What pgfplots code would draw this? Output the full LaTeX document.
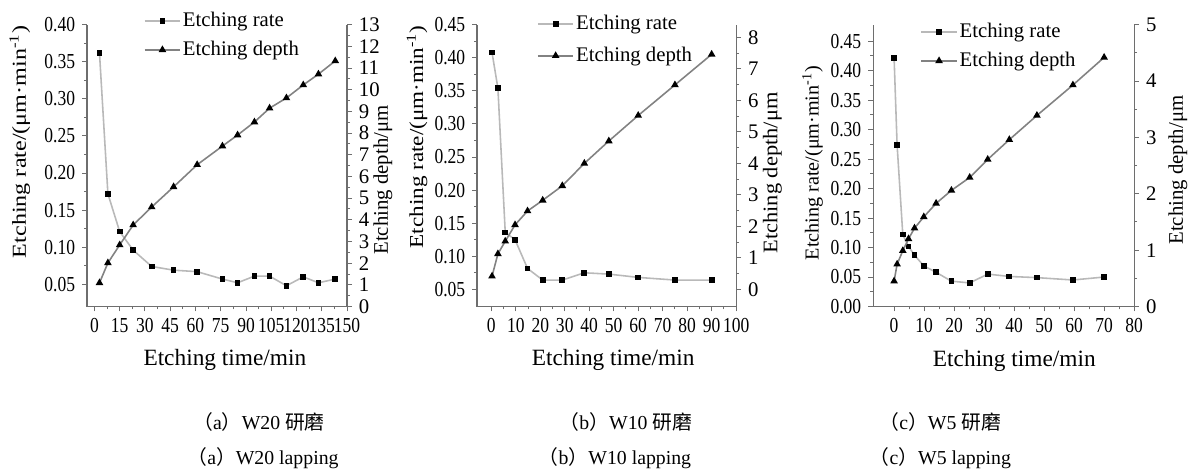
\documentclass[border=0pt]{standalone}
\usepackage{fontspec}
\setmainfont{Liberation Serif}
\newfontfamily\narrowfont{Liberation Serif}[FakeStretch=0.82]
\newfontfamily\lblA{Liberation Serif}[FakeStretch=1.22]
\newfontfamily\lblB{Liberation Serif}[FakeStretch=1.17]
\newfontfamily\lblC{Liberation Serif}[FakeStretch=1.02]
\newfontfamily\lblR{Liberation Serif}[FakeStretch=1.08]
\newfontfamily\cjk{Noto Sans CJK SC}
\usepackage{pgfplots}
\pgfplotsset{compat=1.18}
\definecolor{rategray}{RGB}{185,185,185}
\definecolor{depthgray}{RGB}{130,130,130}
\definecolor{axgray}{RGB}{110,110,110}
\pgfplotsset{
  common/.style={
    scale only axis, anchor=south west, clip=false,
    tick align=outside,
    major tick length=2.5pt, minor tick length=1.5pt,
    every tick/.style={axgray, line width=0.5pt},
    axis line style={axgray, line width=0.6pt},
    /pgf/number format/assume math mode=true,
    minor x tick num=1, minor y tick num=1,
    label style={font=\fontsize{10.5}{12}\selectfont},
    height=142.5pt,
  },
  leftax/.style={common,
    axis x line*=bottom, axis y line*=left,
    scaled y ticks=false,
    yticklabel style={font=\narrowfont\fontsize{10.8}{12}\selectfont, /pgf/number format/fixed, /pgf/number format/fixed zerofill, /pgf/number format/precision=2},
    xticklabel style={font=\narrowfont\fontsize{10.8}{12}\selectfont},
    xlabel style={font=\fontsize{11.8}{13}\selectfont},
  },
  rightax/.style={common,
    axis x line=none, axis y line*=right,
    yticklabel style={font=\fontsize{10.5}{12}\selectfont},
    legend cell align=left,
    legend image code/.code={\draw[mark repeat=2,mark phase=2,##1] plot coordinates {(0pt,0pt) (9pt,0pt) (18pt,0pt)};},
  },
  rate/.style={rategray, line width=0.8pt, mark=square*, mark size=1.05pt, mark options={black, fill=black, solid}},
  depth/.style={depthgray, line width=0.8pt, mark=triangle*, mark size=1.45pt, mark options={black, fill=black, solid}},
}
\pgfplotstableread{
t rate depth
3 0.362 1.09
8 0.172 2.01
15 0.121 2.84
23 0.096 3.76
34 0.074 4.59
47 0.069 5.52
61 0.067 6.54
76 0.057 7.40
85 0.052 7.91
95 0.061 8.51
104 0.061 9.15
114 0.048 9.62
124 0.060 10.22
133 0.052 10.72
143 0.057 11.33
}\dataA
\pgfplotstableread{
t rate depth
0.3 0.408 0.42
2.7 0.354 1.13
5.7 0.136 1.53
9.7 0.125 2.05
14.8 0.0815 2.49
21 0.064 2.83
29 0.064 3.29
38 0.075 4.00
48 0.073 4.71
60 0.068 5.52
75 0.064 6.49
90 0.064 7.46
}\dataB
\pgfplotstableread{
t rate depth
0 0.422 0.45
1 0.274 0.75
2.9 0.122 0.99
4.8 0.102 1.20
6.8 0.087 1.39
9.9 0.069 1.59
14 0.058 1.83
19.1 0.043 2.06
25.2 0.040 2.29
31.2 0.055 2.61
38.4 0.051 2.96
47.6 0.049 3.39
59.6 0.045 3.93
70 0.050 4.42
}\dataC
\begin{document}
\begin{tikzpicture}
\path (0,0) rectangle (597pt,235.5pt);
% ---------- panel (a)
\begin{axis}[leftax, at={(44pt,80.5pt)}, width=131.5pt,
  xmin=-4.4, xmax=150, ymin=0.02, ymax=0.40,
  xtick={0,15,...,150}, ytick={0.05,0.10,0.15,0.20,0.25,0.30,0.35,0.40},
  xlabel={Etching time/min},
  xlabel style={at={(axis description cs:0.530,-0.189)}, anchor=center},
  ylabel={Etching rate/(μm·min\textsuperscript{-1})},
  ylabel style={font=\lblA\fontsize{10}{12}\selectfont, at={(axis description cs:-0.2586,0.584)}, anchor=center},
]
\addplot[rate] table[x=t,y=rate] {\dataA};
\end{axis}
\begin{axis}[rightax, at={(44pt,80.5pt)}, width=131.5pt,
  xmin=-4.4, xmax=150, ymin=0, ymax=13, ytick={0,1,...,13},
  ylabel={Etching depth/μm},
  ylabel style={at={(axis description cs:1.138,0.449)}, anchor=center, rotate=0},
  legend style={draw=none, fill=none, at={(axis description cs:0.217,0.962)}, anchor=west, font=\fontsize{10.5}{12}\selectfont, row sep=2.8pt, inner sep=0pt, nodes={inner ysep=1.5pt, inner xsep=1pt}},
]
\addlegendimage{rate}
\addlegendentry{Etching rate}
\addplot[depth] table[x=t,y=depth] {\dataA};
\addlegendentry{Etching depth}
\end{axis}
% ---------- panel (b)
\begin{axis}[leftax, at={(241.25pt,80.5pt)}, width=131pt,
  xmin=-5.8, xmax=100, ymin=0.024, ymax=0.45,
  xtick={0,10,...,100}, ytick={0.05,0.10,0.15,0.20,0.25,0.30,0.35,0.40,0.45},
  xlabel={Etching time/min},
  xlabel style={at={(axis description cs:0.525,-0.189)}, anchor=center},
  ylabel={Etching rate/(μm·min\textsuperscript{-1})},
  ylabel style={font=\lblB\fontsize{10}{12}\selectfont, at={(axis description cs:-0.232,0.602)}, anchor=center},
]
\addplot[rate] table[x=t,y=rate] {\dataB};
\end{axis}
\begin{axis}[rightax, at={(241.25pt,80.5pt)}, width=131pt,
  xmin=-5.8, xmax=100, ymin=-0.54, ymax=8.4, ytick={0,1,...,8},
  ylabel={Etching depth/μm},
  ylabel style={font=\lblR\fontsize{10.5}{12}\selectfont, at={(axis description cs:1.14,0.474)}, anchor=center, rotate=0},
  legend style={draw=none, fill=none, at={(axis description cs:0.23,0.946)}, anchor=west, font=\fontsize{10.5}{12}\selectfont, row sep=4.2pt, inner sep=0pt, nodes={inner ysep=1.5pt, inner xsep=1pt}},
]
\addlegendimage{rate}
\addlegendentry{Etching rate}
\addplot[depth] table[x=t,y=depth] {\dataB};
\addlegendentry{Etching depth}
\end{axis}
% ---------- panel (c)
\begin{axis}[leftax, at={(441.5pt,80.5pt)}, width=132pt,
  xmin=-7, xmax=80, ymin=0, ymax=0.478,
  xtick={0,10,...,80}, ytick={0,0.05,0.10,0.15,0.20,0.25,0.30,0.35,0.40,0.45},
  xlabel={Etching time/min},
  xlabel style={at={(axis description cs:0.541,-0.194)}, anchor=center},
  ylabel={Etching rate/(μm·min\textsuperscript{-1})},
  ylabel style={font=\lblC\fontsize{10}{12}\selectfont, at={(axis description cs:-0.232,0.509)}, anchor=center},
]
\addplot[rate] table[x=t,y=rate] {\dataC};
\end{axis}
\begin{axis}[rightax, at={(441.5pt,80.5pt)}, width=132pt,
  xmin=-7, xmax=80, ymin=0, ymax=5, ytick={0,1,...,5},
  ylabel={Etching depth/μm},
  ylabel style={at={(axis description cs:1.168,0.484)}, anchor=center, rotate=0},
  legend style={draw=none, fill=none, at={(axis description cs:0.180,0.923)}, anchor=west, font=\fontsize{10.5}{12}\selectfont, row sep=2.8pt, inner sep=0pt, nodes={inner ysep=1.5pt, inner xsep=1pt}},
]
\addlegendimage{rate}
\addlegendentry{Etching rate}
\addplot[depth] table[x=t,y=depth] {\dataC};
\addlegendentry{Etching depth}
\end{axis}
% ---------- captions
\begin{scope}[every node/.style={font=\fontsize{10}{11}\selectfont, inner sep=0pt}]
\node at (131pt,22pt) {{\cjk （}a{\cjk ）}W20 {\cjk 研磨}};
\node at (316.5pt,22pt) {{\cjk （}b{\cjk ）}W10 {\cjk 研磨}};
\node at (475.5pt,22pt) {{\cjk （}c{\cjk ）}W5 {\cjk 研磨}};
\node at (133pt,3.6pt) {{\cjk （}a{\cjk ）}W20 lapping};
\node at (311pt,3.6pt) {{\cjk （}b{\cjk ）}W10 lapping};
\node at (475.5pt,3.6pt) {{\cjk （}c{\cjk ）}W5 lapping};
\end{scope}
\end{tikzpicture}
\end{document}
